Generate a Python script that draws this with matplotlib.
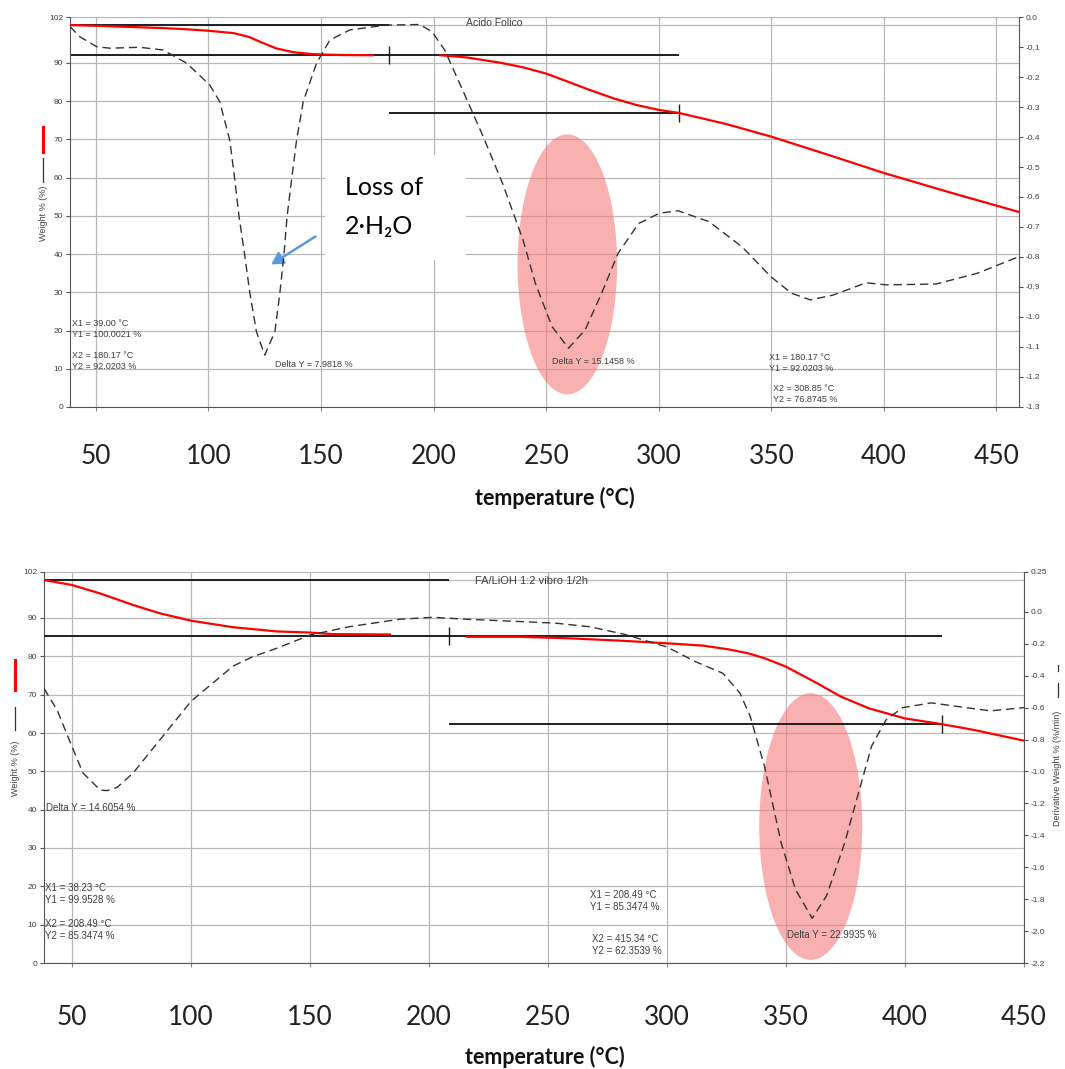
import matplotlib
matplotlib.use("Agg")
import matplotlib.pyplot as plt
from matplotlib.patches import Ellipse, Rectangle, FancyArrowPatch
from matplotlib.lines import Line2D

# ---------------- data: top panel (Acido Folico) ----------------
top_title = "Acido Folico"
top_w_seg1_t = [38.5, 50, 60, 70, 80, 90, 100, 111, 118, 123, 130, 137.6, 145, 150, 160, 173]
top_w_seg1_v = [99.9, 99.7, 99.5, 99.3, 99.1, 98.8, 98.4, 97.8, 96.8, 95.5, 93.8, 92.8, 92.35, 92.2, 92.05, 92.0]
top_w_seg2_t = [203, 215, 230, 240, 250, 260, 268, 280, 290, 300, 309, 330, 350, 375, 400, 430, 460]
top_w_seg2_v = [92.0, 91.4, 90.0, 88.8, 87.2, 85.0, 83.2, 80.7, 79.0, 77.7, 76.9, 74.0, 70.7, 66.0, 61.2, 56.0, 51.0]
top_d_t = [38.5, 42.9, 50.3, 56.2, 69.5, 79.9, 90.3, 100.6, 105, 109.5, 111.7, 113.6, 116.1, 118.4,
           121.3, 125.0, 129.5, 131.7, 133.5, 134.9, 136.9, 139.1, 142.1, 148.0, 153.9, 162.8, 179.1,
           193.8, 199.3, 204.9, 212.2, 221.4, 230.6, 239.7, 245.2, 252.6, 259.9, 267.3, 274.6, 281.9,
           291.1, 300.3, 308.6, 322.3, 337, 349.8, 359, 367.3, 377.4, 392.1, 401.2, 423.2, 441.6, 459.9]
top_d_v = [-0.032, -0.066, -0.099, -0.104, -0.101, -0.11, -0.154, -0.227, -0.282, -0.412, -0.543,
           -0.666, -0.794, -0.921, -1.049, -1.127, -1.049, -0.921, -0.794, -0.666, -0.543, -0.412,
           -0.282, -0.154, -0.077, -0.043, -0.027, -0.025, -0.049, -0.11, -0.232, -0.388, -0.554,
           -0.743, -0.888, -1.032, -1.104, -1.043, -0.921, -0.788, -0.688, -0.654, -0.646, -0.682,
           -0.766, -0.866, -0.921, -0.943, -0.927, -0.886, -0.893, -0.89, -0.854, -0.799]
top_x1, top_y1, top_x2, top_y2, top_y3 = 39.00, 100.0021, 180.17, 92.0203, 76.8745
top_x3 = 308.85
top_ellipse = (259.4, 37.3, 44.2, 68.0)   # centre T, centre W, width, height

# ---------------- data: bottom panel (FA/LiOH) ----------------
bot_title = "FA/LiOH 1:2 vibro 1/2h"
bot_w_seg1_t = [38.2, 50, 61.8, 75.6, 87, 100, 117.6, 136, 150, 159.4, 183.6]
bot_w_seg1_v = [99.9, 98.6, 96.4, 93.4, 91.2, 89.3, 87.6, 86.5, 86.2, 85.8, 85.7]
bot_w_seg2_t = [216, 238, 258.8, 280, 300, 315, 326, 334, 341, 350, 363, 373, 385, 400, 415, 429, 450]
bot_w_seg2_v = [85.1, 85.1, 84.7, 84.1, 83.4, 82.8, 81.8, 80.8, 79.5, 77.3, 73.0, 69.5, 66.4, 63.8, 62.35, 60.8, 58.0]
bot_d_t = [38.2, 43.7, 50, 54.6, 61.8, 64.7, 68.9, 75.6, 87, 100, 117.6, 126, 136, 150, 166.4, 187.7,
           201.6, 215.7, 232.5, 252.8, 267.5, 282, 300, 311.7, 323.5, 330.7, 335, 341, 348, 354, 361,
           367, 374.6, 380.4, 386, 392, 399, 411, 425.7, 436, 450]
bot_d_v = [-0.48, -0.615, -0.845, -1.01, -1.116, -1.12, -1.10, -1.01, -0.80, -0.56, -0.34, -0.28,
           -0.228, -0.145, -0.093, -0.046, -0.034, -0.046, -0.057, -0.07, -0.093, -0.14, -0.22, -0.31,
           -0.385, -0.51, -0.657, -0.97, -1.45, -1.74, -1.92, -1.78, -1.45, -1.137, -0.84, -0.677,
           -0.60, -0.57, -0.60, -0.62, -0.60]
bot_x1, bot_y1, bot_x2, bot_y2, bot_y3 = 38.23, 99.9528, 208.49, 85.3474, 62.3539
bot_x3 = 415.34
bot_ellipse = (360.4, 35.6, 43.3, 69.6)

x_ticks = [50, 100, 150, 200, 250, 300, 350, 400, 450]
left_ticks = [0, 10, 20, 30, 40, 50, 60, 70, 80, 90, 102]
top_right_ticks = [0.0, -0.1, -0.2, -0.3, -0.4, -0.5, -0.6, -0.7, -0.8, -0.9, -1.0, -1.1, -1.2, -1.3]
bot_right_ticks = [0.25, 0.0, -0.2, -0.4, -0.6, -0.8, -1.0, -1.2, -1.4, -1.6, -1.8, -2.0, -2.2]

SMALL = ["Liberation Sans", "DejaVu Sans"]
BIG = ["Lato", "DejaVu Sans"]
GRID = "#b8b8b8"
TXT = "#404040"

fig = plt.figure(figsize=(10.65, 10.69), dpi=100)
ax_top = fig.add_axes([70 / 1065, 1 - 407 / 1069, 949 / 1065, 390 / 1069])
ax_bot = fig.add_axes([44 / 1065, 1 - 963 / 1069, 980 / 1065, 391 / 1069])


def style_panel(ax, xlim, rticks, rlim, rfmt, label_pad, xlabel_pos):
    ax.set_xlim(*xlim)
    ax.set_ylim(0, 102)
    ax.set_xticks(x_ticks)
    ax.set_xticklabels([str(t) for t in x_ticks], fontfamily=BIG, fontsize=19, color="#222222")
    ax.set_yticks(left_ticks)
    ax.set_yticklabels([str(t) for t in left_ticks], fontfamily=SMALL, fontsize=6, color=TXT)
    ax.tick_params(axis="x", length=3, pad=label_pad, color="#888888")
    ax.tick_params(axis="y", length=3, pad=2, color="#555555")
    ax.grid(True, color=GRID, lw=0.9)
    ax.set_axisbelow(True)
    ax.axhline(100, color=GRID, lw=0.9, zorder=0.5)
    for s in ["top", "right"]:
        ax.spines[s].set_visible(False)
    for s in ["left", "bottom"]:
        ax.spines[s].set_color("#555555")
    ax.set_xlabel("temperature (°C)", fontfamily=BIG, fontweight="bold", fontsize=15.5, color="#111111")
    ax.xaxis.set_label_coords(*xlabel_pos)
    axr = ax.twinx()
    axr.set_ylim(*rlim)
    axr.set_yticks(rticks)
    axr.set_yticklabels([rfmt(v) for v in rticks], fontfamily=SMALL, fontsize=6, color=TXT)
    axr.tick_params(axis="y", length=3, pad=2, color="#555555")
    for s in ["top", "left", "bottom"]:
        axr.spines[s].set_visible(False)
    axr.spines["right"].set_color("#555555")
    return axr


def fmt_top(v):
    return f"{v:.1f}"


def fmt_bot(v):
    return "0.25" if abs(v - 0.25) < 1e-9 else f"{v:.1f}"


def draw_panel(ax, axr, seg1_t, seg1_v, seg2_t, seg2_v, d_t, d_v, x1, y1, x2, y2, y3, x3, ell):
    cx, cy, w, h = ell
    ax.add_patch(Ellipse((cx, cy), w, h, facecolor="#f47c7c", alpha=0.6, edgecolor="none", zorder=1))
    # analysis lines
    k = dict(color="#1e1e1e", lw=1.4, zorder=3)
    ax.hlines(y1, x1, x2, **k)
    ax.hlines(y2, x1, x3, **k)
    ax.hlines(y3, x2, x3, **k)
    ax.plot([x2], [y2], marker="|", ms=13, mew=1.0, color="#1e1e1e", zorder=3)
    ax.plot([x3], [y3], marker="|", ms=13, mew=1.0, color="#1e1e1e", zorder=3)
    ax.plot(seg1_t, seg1_v, color="#ff0000", lw=1.6, zorder=4)
    ax.plot(seg2_t, seg2_v, color="#ff0000", lw=1.6, zorder=4)
    axr.plot(d_t, d_v, color="#333333", lw=1.0, dashes=(6, 3.5), zorder=5)


# ---------- top panel ----------
axr_top = style_panel(ax_top, (38.5, 460), top_right_ticks, (-1.3, 0), fmt_top, 24, (0.5105, -0.205))
draw_panel(ax_top, axr_top, top_w_seg1_t, top_w_seg1_v, top_w_seg2_t, top_w_seg2_v, top_d_t, top_d_v,
           top_x1, top_y1, top_x2, top_y2, top_y3, top_x3, top_ellipse)
tk = dict(fontfamily=SMALL, fontsize=6.5, color=TXT, va="center", ha="left", linespacing=1.25, zorder=6)
ax_top.text(214.3, 100.4, top_title, **{**tk, "fontsize": 7.5})
ax_top.text(39.3, 20.4, f"X1 = {top_x1:.2f} °C\nY1 = {top_y1:.4f} %", **tk)
ax_top.text(39.3, 12.0, f"X2 = {top_x2:.2f} °C\nY2 = {top_y2:.4f} %", **tk)
ax_top.text(129.5, 11.2, "Delta Y = 7.9818 %", **tk)
ax_top.text(252.4, 12.0, "Delta Y = 15.1458 %", **tk)
ax_top.text(348.8, 11.5, f"X1 = {top_x2:.2f} °C\nY1 = {top_y2:.4f} %", **tk)
ax_top.text(350.6, 3.4, f"X2 = {top_x3:.2f} °C\nY2 = {top_y3:.4f} %", **tk)
# white label box with annotation
ax_top.add_patch(Rectangle((151.7, 38.4), 62.6, 27.5, facecolor="white", edgecolor="none", zorder=2))
ax_top.text(160.5, 57.5, "Loss of", fontfamily=BIG, fontsize=18, color="black", va="center", ha="left", zorder=6)
ax_top.text(160.5, 47.1, "2·H₂O", fontfamily=BIG, fontsize=18, color="black", va="center", ha="left", zorder=6)
ax_top.add_patch(FancyArrowPatch((148.6, 45.0), (126.8, 36.9), arrowstyle="-|>,head_length=7,head_width=4",
                                 color="#5b9bd5", lw=1.8, zorder=6))

# ---------- bottom panel ----------
axr_bot = style_panel(ax_bot, (38.2, 450), bot_right_ticks, (-2.2, 0.25), fmt_bot, 27, (0.511, -0.212))
draw_panel(ax_bot, axr_bot, bot_w_seg1_t, bot_w_seg1_v, bot_w_seg2_t, bot_w_seg2_v, bot_d_t, bot_d_v,
           bot_x1, bot_y1, bot_x2, bot_y2, bot_y3, bot_x3, bot_ellipse)
tb = {**tk, "fontsize": 7}
ax_bot.text(219.3, 99.7, bot_title, **{**tk, "fontsize": 8})
ax_bot.text(39.1, 40.4, "Delta Y = 14.6054 %", **tb)
ax_bot.text(38.7, 18.0, f"X1 = {bot_x1:.2f} °C\nY1 = {bot_y1:.4f} %", **tb)
ax_bot.text(38.7, 8.6, f"X2 = {bot_x2:.2f} °C\nY2 = {bot_y2:.4f} %", **tb)
ax_bot.text(267.6, 16.2, f"X1 = {bot_x2:.2f} °C\nY1 = {bot_y2:.4f} %", **tb)
ax_bot.text(268.5, 4.7, f"X2 = {bot_x3:.2f} °C\nY2 = {bot_y3:.4f} %", **tb)
ax_bot.text(350.4, 7.3, "Delta Y = 22.9935 %", **tb)

# ---------- y-axis titles with series keys ----------
def fx(px):
    return px / 1065


def fy(py):
    return 1 - py / 1069


def key(px, py0, py1, color, lw):
    fig.add_artist(Line2D([fx(px), fx(px)], [fy(py0), fy(py1)], transform=fig.transFigure, color=color, lw=lw))


lab = dict(fontfamily=SMALL, fontsize=6.5, color=TXT, rotation=90, ha="center", va="center")
fig.text(fx(43), fy(213), "Weight % (%)", **lab)
key(43, 127, 152, "#ff0000", 2.2)
key(43, 158, 182, "#333333", 0.9)
fig.text(fx(15), fy(768), "Weight % (%)", **lab)
key(15, 660, 690, "#ff0000", 2.2)
key(15, 707, 730, "#333333", 0.9)
fig.text(fx(1058), fy(768), "Derivative Weight % (%/min)", **lab)
key(1058, 683, 697, "#333333", 0.9)
key(1058, 665, 671, "#333333", 0.9)

fig.savefig("out.png", dpi=100, facecolor="white")
